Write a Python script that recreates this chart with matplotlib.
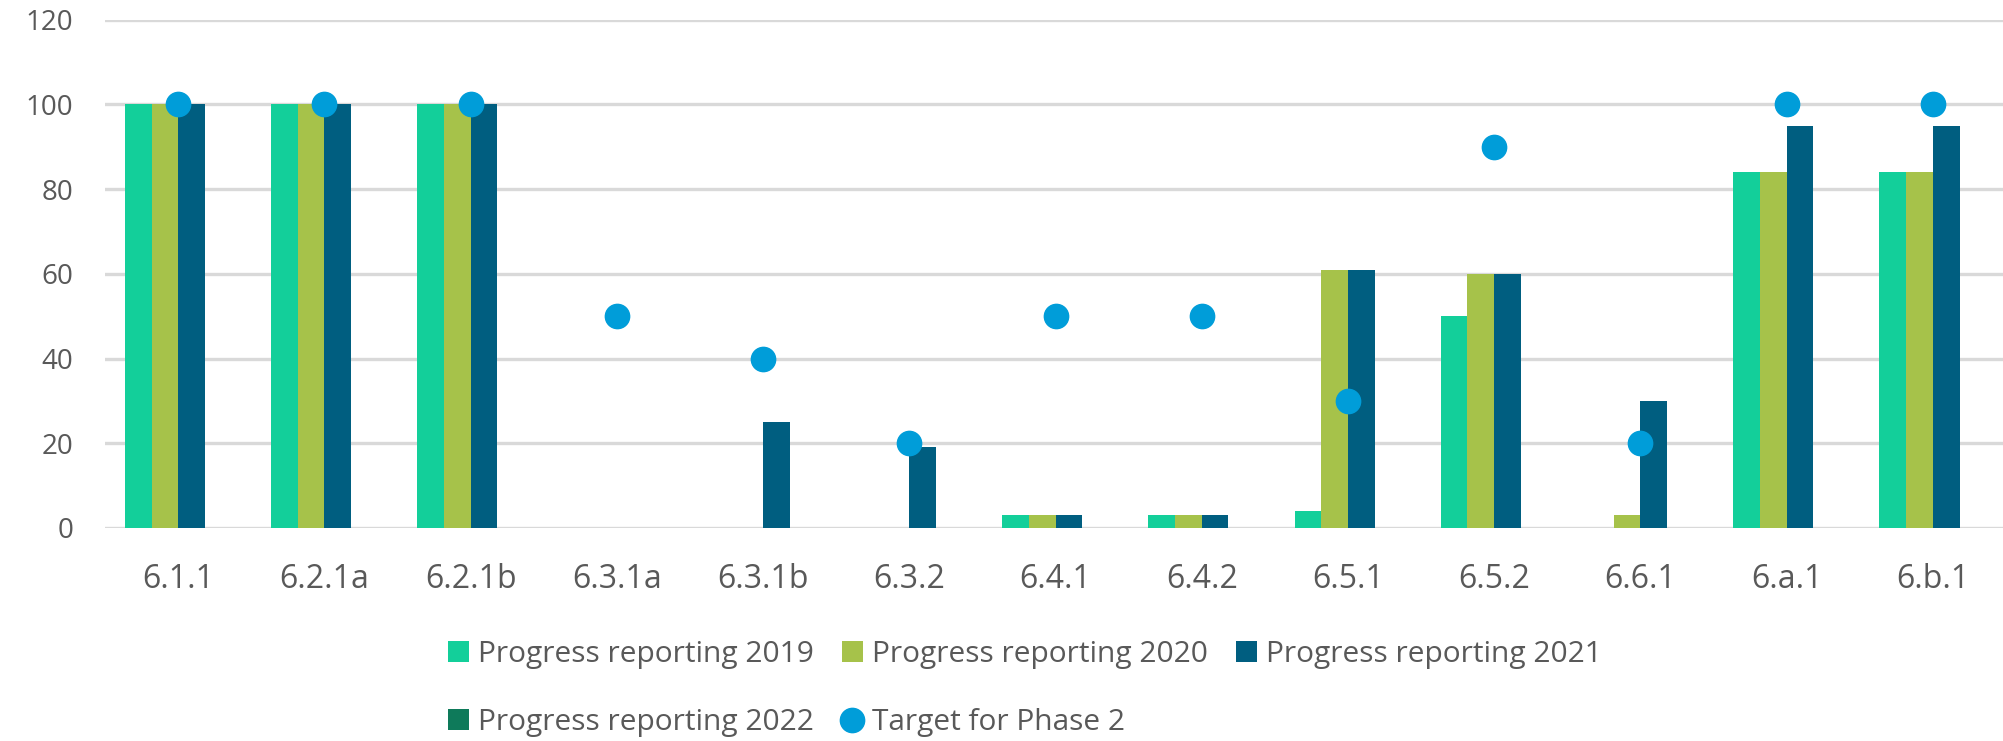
import numpy as np
import matplotlib.pyplot as plt

# Indicator categories and values
categories = ['6.1.1', '6.2.1a', '6.2.1b', '6.3.1a', '6.3.1b', '6.3.2', '6.4.1',
              '6.4.2', '6.5.1', '6.5.2', '6.6.1', '6.a.1', '6.b.1']
progress_2019 = [100, 100, 100, 0, 0, 0, 3, 3, 4, 50, 0, 84, 84]
progress_2020 = [100, 100, 100, 0, 0, 0, 3, 3, 61, 60, 3, 84, 84]
progress_2021 = [100, 100, 100, 0, 25, 19, 3, 3, 61, 60, 30, 95, 95]
progress_2022 = [0, 0, 0, 0, 0, 0, 0, 0, 0, 0, 0, 0, 0]
target_phase2 = [100, 100, 100, 50, 40, 20, 50, 50, 30, 90, 20, 100, 100]

series_names = ['Progress reporting 2019', 'Progress reporting 2020',
                'Progress reporting 2021', 'Progress reporting 2022']
series_colors = ['#13CF9A', '#A6C24A', '#005E80', '#0E7A5A']
target_color = '#009DD9'
text_color = '#595959'

plt.rcParams['font.family'] = ['Open Sans', 'DejaVu Sans']

fig = plt.figure(figsize=(20.03, 7.41), dpi=100)
ax = fig.add_axes([0.0525, 0.2875, 0.9475, 0.686])

x = np.arange(len(categories))
bar_w = 0.1825
handles = {}
for i, (vals, name, col) in enumerate(zip(
        [progress_2019, progress_2020, progress_2021, progress_2022],
        series_names, series_colors)):
    handles[name] = ax.bar(x + (i - 1.5) * bar_w, vals, width=bar_w,
                           color=col, label=name, zorder=2)

handles['Target for Phase 2'], = ax.plot(x, target_phase2, linestyle='none',
                                         marker='o', markersize=17.5,
                                         color=target_color, zorder=3,
                                         label='Target for Phase 2')

ax.set_xlim(-0.5, 12.48)
ax.set_ylim(0, 120)
ax.set_yticks(range(0, 121, 20))
ax.set_xticks(x)
ax.set_xticklabels(categories)
ax.grid(axis='y', color='#D9D9D9', linewidth=2.4, zorder=0)
ax.set_axisbelow(True)
for s in ax.spines.values():
    s.set_visible(False)
ax.tick_params(axis='both', length=0, colors=text_color)
ax.tick_params(axis='y', labelsize=20, pad=23)
ax.tick_params(axis='x', labelsize=23, pad=25)

# reorder so legend fills row by row
order = ['Progress reporting 2019', 'Progress reporting 2022',
         'Progress reporting 2020', 'Target for Phase 2',
         'Progress reporting 2021']
fig.legend([handles[k] for k in order], order, ncol=3, frameon=False,
           loc='center left', bbox_to_anchor=(0.2235, 0.0709),
           fontsize=21.5, labelcolor=text_color, handlelength=0.7,
           handleheight=0.7, handletextpad=0.3, columnspacing=0.95,
           labelspacing=1.33, borderaxespad=0, borderpad=0)

fig.savefig('out.png', dpi=100)
